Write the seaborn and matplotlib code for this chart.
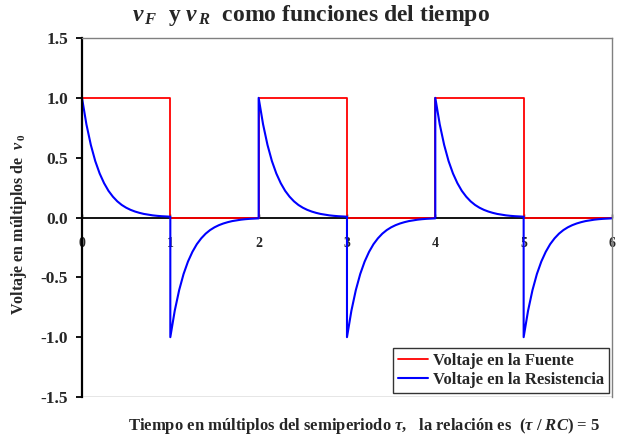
import numpy as np
import pandas as pd
import matplotlib
matplotlib.use("Agg")
import matplotlib.pyplot as plt
import seaborn as sns

# Decay of the resistor voltage over one half-period (step 0.05 tau), tau/RC = 5
decay_step = 0.05
decay = [1.000, 0.779, 0.607, 0.472, 0.368, 0.287, 0.223, 0.174, 0.135, 0.105,
         0.082, 0.064, 0.050, 0.039, 0.030, 0.024, 0.018, 0.014, 0.011, 0.009, 0.007]
# Source level in each half-period (multiples of v0)
source_levels = [1, 0, 1, 0, 1, 0]
# Sign of the resistor transient in each half-period
transient_sign = [1, -1, 1, -1, 1, -1]

x_ticks = [0, 1, 2, 3, 4, 5, 6]
y_ticks = [-1.5, -1.0, -0.5, 0.0, 0.5, 1.0, 1.5]

# Build the series
t_src, v_src, t_res, v_res = [], [], [], []
local_t = np.arange(len(decay)) * decay_step
for k, (lvl, sgn) in enumerate(zip(source_levels, transient_sign)):
    t_src += [k, k + 1]
    v_src += [lvl, lvl]
    t_res += list(k + local_t)
    v_res += [sgn * d for d in decay]

src = pd.DataFrame({"t": t_src, "v": v_src})
res = pd.DataFrame({"t": t_res, "v": v_res})

sns.set_style("white")
plt.rcParams["font.family"] = ["Liberation Serif", "DejaVu Serif"]
plt.rcParams["font.weight"] = "bold"
plt.rcParams["mathtext.fontset"] = "custom"
plt.rcParams["mathtext.rm"] = "Liberation Serif:bold"
plt.rcParams["mathtext.it"] = "Liberation Serif:italic:bold"
plt.rcParams["mathtext.bf"] = "Liberation Serif:bold"

fig = plt.figure(figsize=(6.23, 4.38), dpi=100)
ax = fig.add_axes([0.1316, 0.0936, 0.8507, 0.8196])

sns.lineplot(data=src, x="t", y="v", ax=ax, color="#ff0000", lw=1.3,
             estimator=None, sort=False, label="Voltaje en la Fuente")
sns.lineplot(data=res, x="t", y="v", ax=ax, color="#0000ff", lw=1.5,
             estimator=None, sort=False, label="Voltaje en la Resistencia")

ax.set_xlim(0, 6)
ax.set_ylim(-1.5, 1.5)
ax.set_xticks(x_ticks)
ax.set_xticklabels([str(v) for v in x_ticks], fontsize=13, fontweight="bold")
ax.set_yticks(y_ticks)
ax.set_yticklabels([f"{v:.1f}" for v in y_ticks], fontsize=12.5, fontweight="bold")

# Axis through zero, gray plot-area border
for s in ["top", "right"]:
    ax.spines[s].set_color("#808080")
    ax.spines[s].set_linewidth(1.0)
ax.spines["left"].set_color("black")
ax.spines["left"].set_linewidth(1.6)
ax.spines["bottom"].set_position(("data", 0))
ax.spines["bottom"].set_color("black")
ax.spines["bottom"].set_linewidth(1.3)
ax.spines["bottom"].set_zorder(1)
ax.axhline(-1.5, color="#808080", lw=1.0, zorder=1)

ax.tick_params(axis="y", direction="out", length=4, width=1.3, color="black",
               left=True, pad=6)
ax.tick_params(axis="x", direction="in", length=3, width=1.0, color="black",
               bottom=True, pad=14)

ax.set_xlabel(r"Tiempo en múltiplos del semiperiodo $\tau$,   la relación es  ($\tau$ / $RC$) = 5",
              fontsize=12, fontweight="bold")
ax.xaxis.set_label_coords(0.532, -0.052)
ax.set_ylabel(r"Voltaje en múltiplos de  $v_{\,0}$", fontsize=11.5, fontweight="bold")
ax.yaxis.set_label_coords(-0.100, 0.48)
ax.set_title(r"$v_{\,F}$  y $v_{\,R}$  como funciones del tiempo", fontsize=17,
             fontweight="bold", pad=12, x=0.432)

leg = ax.legend(loc="lower right", bbox_to_anchor=(0.995, 0.012), frameon=True,
                fancybox=False, edgecolor="black", fontsize=12, handlelength=1.8,
                handletextpad=0.3, borderpad=0.3, labelspacing=0.15, borderaxespad=0)
leg.get_frame().set_linewidth(1.0)
for txt in leg.get_texts():
    txt.set_fontweight("bold")

fig.savefig("out.png", dpi=100)
